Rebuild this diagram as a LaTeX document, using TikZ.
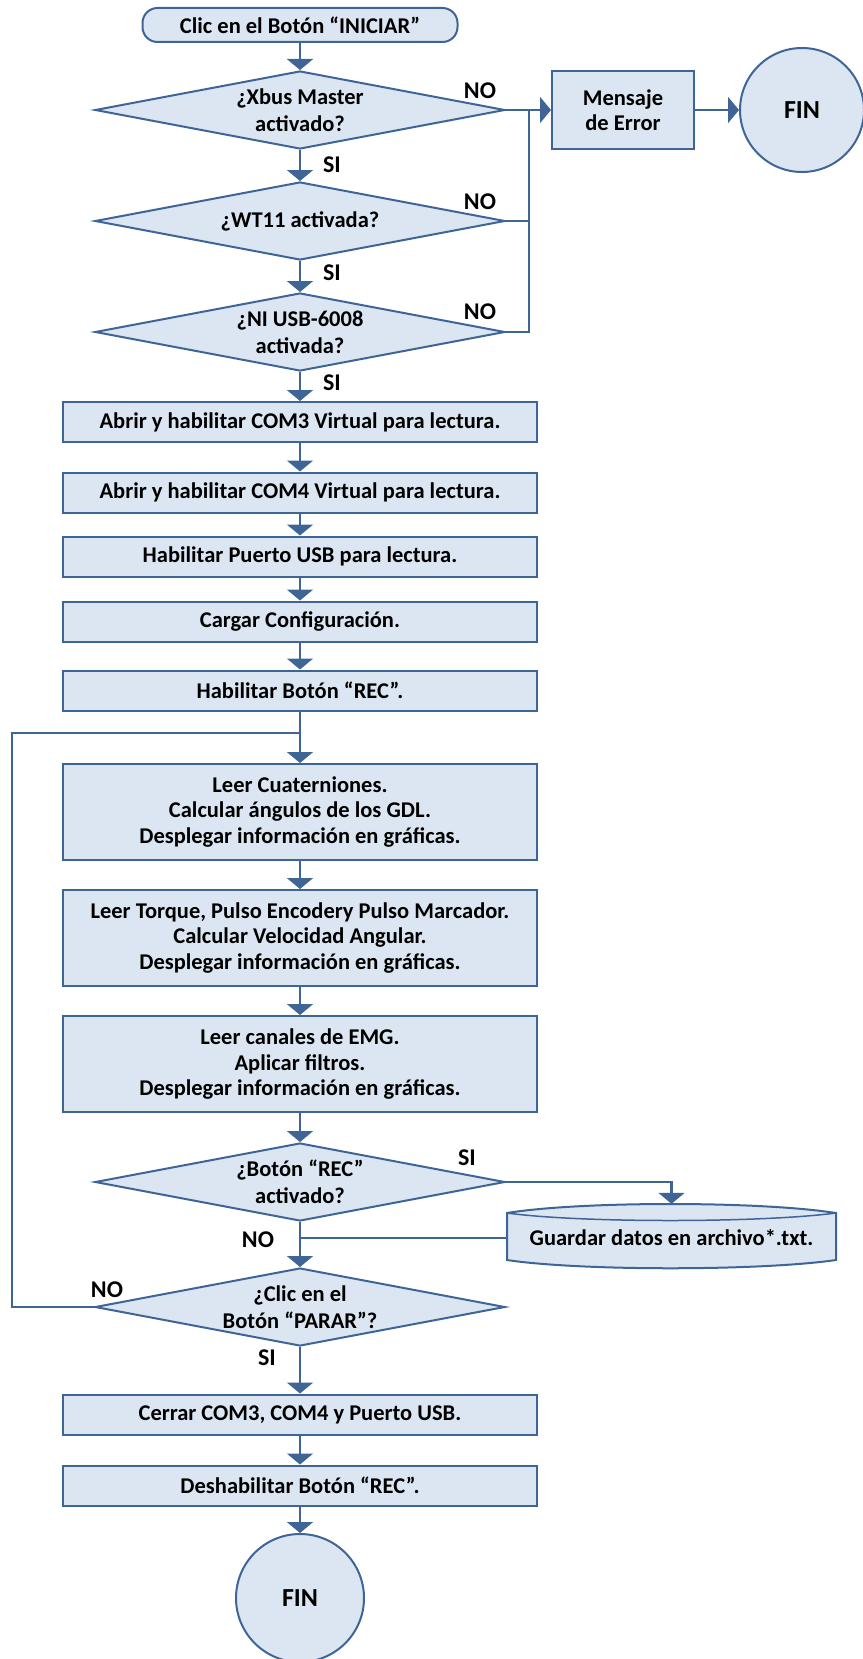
\documentclass[tikz,border=0pt]{standalone}
\usepackage{fontspec}
\setmainfont{Carlito}
\usetikzlibrary{arrows.meta,shapes.geometric,calc}
\definecolor{bfill}{HTML}{DCE6F2}
\definecolor{bline}{HTML}{3F6597}
\begin{document}
\begin{tikzpicture}[x=1pt,y=-1pt,
  font=\fontsize{22.5}{25.5}\selectfont\bfseries,
  box/.style={draw=bline,fill=bfill,line width=2pt,minimum width=474,minimum height=40,inner sep=0,align=center},
  dia/.style={draw=bline,fill=bfill,line width=2pt,shape=diamond,minimum width=410,minimum height=78,inner sep=0,aspect=5.26},
  dtxt/.style={align=center,inner sep=0,font=\fontsize{22.5}{27}\selectfont\bfseries},
  lbl/.style={inner sep=0,font=\fontsize{24}{26}\selectfont\bfseries},
  finc/.style={circle,draw=bline,fill=bfill,line width=2pt,inner sep=0,font=\fontsize{26}{28}\selectfont\bfseries},
  arr/.style={draw=bline,line width=2.2pt,-{Triangle[width=26pt,length=11pt]}},
  ln/.style={draw=bline,line width=2.2pt},
]
\useasboundingbox (0,0) rectangle (862,1659);

% top part
\node[box,minimum width=315,minimum height=34,rounded corners=15] (start) at (300,25) {Clic en el Botón “INICIAR”};
\node[dia] (d1) at (300,110) {};
\node[dtxt] (d1t) at (d1) {¿Xbus Master\\activado?};
\node[dia] (d2) at (300,221) {};
\node[dtxt] (d2t) at (d2) {¿WT11 activada?};
\node[dia] (d3) at (300,332) {};
\node[dtxt] (d3t) at (d3) {¿NI USB-6008\\activada?};

\node[box,minimum width=142,minimum height=77] (msg) at (623,110) {Mensaje\\de Error};
\node[finc,minimum size=124] (fin1) at (802,110) {FIN};

\node[box] (b1) at (300,422) {Abrir y habilitar COM3 Virtual para lectura.};
\node[box] (b2) at (300,492.5) {Abrir y habilitar COM4 Virtual para lectura.};
\node[box] (b3) at (300,556.5) {Habilitar Puerto USB para lectura.};
\node[box] (b4) at (300,621.5) {Cargar Configuración.};
\node[box] (b5) at (300,690.5) {Habilitar Botón “REC”.};

\node[box,minimum height=96] (b6) at (300,812) {Leer Cuaterniones.\\Calcular ángulos de los GDL.\\Desplegar información en gráficas.};
\node[box,minimum height=96] (b7) at (300,938) {Leer Torque, Pulso Encodery Pulso Marcador.\\Calcular Velocidad Angular.\\Desplegar información en gráficas.};
\node[box,minimum height=96] (b8) at (300,1064) {Leer canales de EMG.\\Aplicar filtros.\\Desplegar información en gráficas.};

\node[dia] (d4) at (300,1182) {};
\node[dtxt] (d4t) at (d4) {¿Botón “REC”\\activado?};
\node[dia] (d5) at (300,1307) {};
\node[dtxt] (d5t) at (d5) {¿Clic en el\\Botón “PARAR”?};

% stored data shape
\path[draw=bline,fill=bfill,line width=2pt] (507,1213) .. controls (580,1201) and (760,1201) .. (836,1213) -- (836,1260) .. controls (760,1271) and (580,1271) .. (507,1260) -- cycle;
\draw[bline,line width=1.5pt] (507,1213) .. controls (580,1223) and (760,1223) .. (836,1213);
\node[minimum width=329,minimum height=68,inner sep=0] (gd) at (671.5,1238) {Guardar datos en archivo*.txt.};

\node[box] (b9) at (300,1414.5) {Cerrar COM3, COM4 y Puerto USB.};
\node[box] (b10) at (300,1485.5) {Deshabilitar Botón “REC”.};
\node[finc,minimum size=128] (fin2) at (300,1598) {FIN};

% labels
\node[lbl] (no1) at (480,91) {NO};
\node[lbl] (no2) at (480,202) {NO};
\node[lbl] (no3) at (480,312) {NO};
\node[lbl] (si1) at (332,165) {SI};
\node[lbl] (si2) at (332,273) {SI};
\node[lbl] (si3) at (332,383) {SI};
\node[lbl] (si4) at (467,1158) {SI};
\node[lbl] (no4) at (258,1240) {NO};
\node[lbl] (no5) at (107,1290) {NO};
\node[lbl] (si5) at (267,1358) {SI};

% connectors main column
\draw[arr] (start.south) -- (d1.north);
\draw[arr] (d1.south) -- (d2.north);
\draw[arr] (d2.south) -- (d3.north);
\draw[arr] (d3.south) -- (b1.north);
\draw[arr] (b1.south) -- (b2.north);
\draw[arr] (b2.south) -- (b3.north);
\draw[arr] (b3.south) -- (b4.north);
\draw[arr] (b4.south) -- (b5.north);
\coordinate (lj) at (300,733);
\draw[ln] (b5.south) -- (lj);
\draw[arr] (lj) -- (b6.north);
\draw[arr] (b6.south) -- (b7.north);
\draw[arr] (b7.south) -- (b8.north);
\draw[arr] (b8.south) -- (d4.north);
\draw[arr] (d4.south) -- (d5.north);
\draw[arr] (d5.south) -- (b9.north);
\draw[arr] (b9.south) -- (b10.north);
\draw[arr] (b10.south) -- (fin2.north);

% error branch
\coordinate (rj) at (529,110);
\draw[ln] (d1.east) -- (rj);
\draw[ln] (d2.east) -| (rj);
\draw[ln] (d3.east) -| (rj);
\draw[arr] (rj) -- (msg.west);
\draw[arr] (msg.east) -- (fin1.west);

% REC branch
\draw[arr] (d4.east) -| (gd.north);
\coordinate (nj) at (300,1238);
\draw[ln] (gd.west) -- (nj);

% loop
\coordinate (lx) at (12,733);
\draw[ln] (d5.west) -| (lx) -- (lj);
\end{tikzpicture}
\end{document}
